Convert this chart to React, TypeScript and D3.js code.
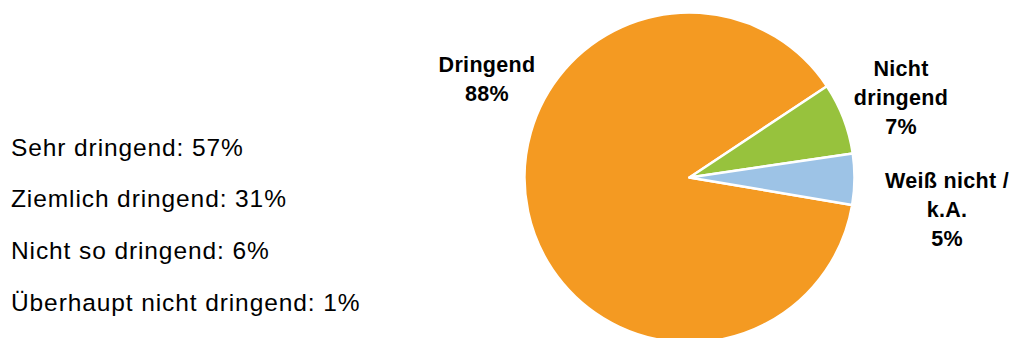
import React from "react";
import * as d3 from "d3";

const sliceLabels: string[][] = [["Dringend", "88%"], ["Nicht", "dringend", "7%"], ["Weiß nicht /", "k.A.", "5%"]];
const sliceValues: number[] = [88, 7, 5];
const sliceColors: string[] = ["#F49A22", "#97C23D", "#9DC3E6"];
const detailLines: string[] = [
  "Sehr dringend: 57%",
  "Ziemlich dringend: 31%",
  "Nicht so dringend: 6%",
  "Überhaupt nicht dringend: 1%",
];

const W = 1013;
const H = 338;
const cx = 689.5;
const cy = 177.5;
const R = 165;
const startDeg = 99.6;

// label anchor positions (center x, first baseline y)
const labelPos: [number, number][] = [
  [487, 72],
  [901, 76],
  [947, 188],
];

export default function App() {
  const start = (startDeg * Math.PI) / 180;
  const pie = d3
    .pie<number>()
    .sort(null)
    .startAngle(start)
    .endAngle(start + 2 * Math.PI)
    .value((d) => d);
  const arcs = pie(sliceValues);
  const arc = d3.arc<d3.PieArcDatum<number>>().innerRadius(0).outerRadius(R);

  return (
    <svg
      width={W}
      height={H}
      style={{ position: "absolute", left: 0, top: 0, background: "#fff" }}
      fontFamily="'Liberation Sans', Arial, sans-serif"
    >
      <g transform={`translate(${cx},${cy})`}>
        {arcs.map((a, i) => (
          <path key={i} d={arc(a) || ""} fill={sliceColors[i]} stroke="#fff" strokeWidth={2.5} strokeLinejoin="round" />
        ))}
      </g>
      {sliceLabels.map((lines, i) => (
        <text key={i} textAnchor="middle" fontWeight="bold" fontSize={21.5} fill="#000" letterSpacing={0.3}>
          {lines.map((l, j) => (
            <tspan key={j} x={labelPos[i][0]} y={labelPos[i][1] + j * 29}>
              {l}
            </tspan>
          ))}
        </text>
      ))}
      {detailLines.map((l, i) => (
        <text key={i} x={11} y={155.5 + i * 51.8} fontSize={24.5} letterSpacing={0.9} fill="#000">
          {l}
        </text>
      ))}
    </svg>
  );
}
